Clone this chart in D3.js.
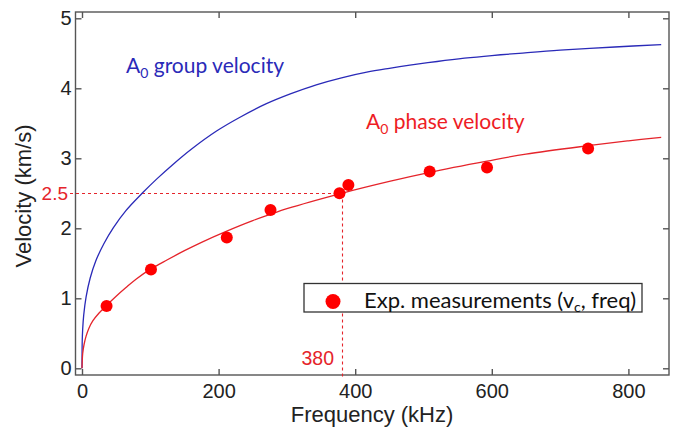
<!DOCTYPE html>
<html><head><meta charset="utf-8">
<script src="https://cdn.jsdelivr.net/npm/d3@7"></script>
<style>
body{margin:0;background:#fff;}
svg{display:block;}
</style></head>
<body>
<svg id="chart" width="700" height="434"></svg>
<script>
// ---- data ----
const groupFreq = [0, 0.3, 1, 2.5, 6, 12, 20, 32, 46, 64, 88, 110, 134, 160, 197, 230, 270, 305, 343, 380, 417, 450, 480, 520, 560, 600, 640, 700, 780, 848];
const groupVel  = [0, 0.38, 0.56, 0.76, 1.02, 1.29, 1.53, 1.78, 2.01, 2.25, 2.50, 2.71, 2.92, 3.13, 3.39, 3.58, 3.78, 3.92, 4.05, 4.15, 4.23, 4.285, 4.33, 4.383, 4.43, 4.468, 4.50, 4.545, 4.59, 4.625];
const phaseFreq = [0, 1, 3, 6, 10, 16, 25, 35, 50, 64, 80, 101, 125, 150, 175, 212, 250, 276, 300, 380, 450, 509, 593, 650, 741, 800, 848];
const phaseVel  = [0, 0.21, 0.34, 0.46, 0.57, 0.68, 0.79, 0.89, 1.03, 1.15, 1.28, 1.42, 1.55, 1.68, 1.80, 1.96, 2.11, 2.20, 2.28, 2.50, 2.67, 2.80, 2.96, 3.06, 3.18, 3.25, 3.30];
const measFreq  = [36, 101, 212, 276, 377, 390, 509, 593, 741];
const measVel   = [0.89, 1.41, 1.87, 2.26, 2.50, 2.62, 2.81, 2.87, 3.14];
const xTicks = [0, 200, 400, 600, 800];
const yTicks = [0, 1, 2, 3, 4, 5];
const markFreq = 380, markVel = 2.5;

const svg = d3.select("#chart");
const x = d3.scaleLinear().domain([0, 800]).range([82, 628.4]);
const y = d3.scaleLinear().domain([0, 5]).range([368.3, 18.3]);
const frame = {l: 75.5, r: 669, t: 12, b: 375};
const axisColor = "#555";
const tickFont = "'Liberation Sans', Arial, sans-serif";
const calFont = "Lato, 'Open Sans', sans-serif";
const red = "#e5242b", dotRed = "#ff0000", blue = "#2a2ab8";

// frame
svg.append("rect").attr("x", frame.l).attr("y", frame.t)
  .attr("width", frame.r - frame.l).attr("height", frame.b - frame.t)
  .attr("fill", "none").attr("stroke", axisColor).attr("stroke-width", 1.4);

// axes with inward ticks
const tl = 6;
const gB = svg.append("g").attr("transform", `translate(0,${frame.b})`)
  .call(d3.axisBottom(x).tickValues(xTicks).tickSizeInner(-tl).tickSizeOuter(0).tickPadding(9).tickFormat(d3.format("d")));
const gT = svg.append("g").attr("transform", `translate(0,${frame.t})`)
  .call(d3.axisTop(x).tickValues(xTicks).tickSizeInner(-tl).tickSizeOuter(0).tickFormat(""));
const gL = svg.append("g").attr("transform", `translate(${frame.l},0)`)
  .call(d3.axisLeft(y).tickValues(yTicks).tickSizeInner(-tl).tickSizeOuter(0).tickPadding(4).tickFormat(d3.format("d")));
const gR = svg.append("g").attr("transform", `translate(${frame.r},0)`)
  .call(d3.axisRight(y).tickValues(yTicks).tickSizeInner(-tl).tickSizeOuter(0).tickFormat(""));
[gB, gT, gL, gR].forEach(g => {
  g.select(".domain").remove();
  g.selectAll(".tick line").attr("stroke", axisColor).attr("stroke-width", 1.4);
  g.selectAll(".tick text").attr("font-family", tickFont).attr("font-size", 20).attr("fill", "#222");
});
gB.selectAll(".tick text").attr("dy", "0.71em");

// axis titles
svg.append("text").attr("x", 372).attr("y", 422).attr("text-anchor", "middle")
  .attr("font-family", tickFont).attr("font-size", 22).attr("fill", "#222").text("Frequency (kHz)");
svg.append("text").attr("transform", "translate(31,196) rotate(-90)").attr("text-anchor", "middle")
  .attr("font-family", tickFont).attr("font-size", 22).attr("fill", "#222").text("Velocity (km/s)");

// dashed guide lines
const gx = Math.round(x(markFreq)) + 0.5, gy = Math.round(y(markVel)) + 0.5;
svg.append("line").attr("x1", 70).attr("x2", gx).attr("y1", gy).attr("y2", gy)
  .attr("stroke", red).attr("stroke-width", 1.1).attr("stroke-dasharray", "3,3");
svg.append("line").attr("x1", gx).attr("x2", gx).attr("y1", gy).attr("y2", frame.b + 4)
  .attr("stroke", red).attr("stroke-width", 1.1).attr("stroke-dasharray", "3,3");
svg.append("text").attr("x", 68).attr("y", y(markVel)).attr("dy", "0.35em").attr("text-anchor", "end")
  .attr("font-family", tickFont).attr("font-size", 19).attr("fill", red).text(d3.format(".1f")(markVel));
svg.append("text").attr("x", 334).attr("y", 365).attr("text-anchor", "end")
  .attr("font-family", tickFont).attr("font-size", 19.5).attr("fill", red).text(markFreq);

// curves
const line = d3.line().x(d => x(d[0])).y(d => y(d[1])).curve(d3.curveCatmullRom.alpha(0.5));
svg.append("path").datum(d3.zip(groupFreq, groupVel)).attr("d", line)
  .attr("fill", "none").attr("stroke", blue).attr("stroke-width", 1.3);
svg.append("path").datum(d3.zip(phaseFreq, phaseVel)).attr("d", line)
  .attr("fill", "none").attr("stroke", red).attr("stroke-width", 1.3);

// measurements
svg.append("g").selectAll("circle").data(d3.zip(measFreq, measVel)).join("circle")
  .attr("cx", d => x(d[0])).attr("cy", d => y(d[1])).attr("r", 6).attr("fill", dotRed);

// curve labels
function subLabel(xp, yp, main, sub, rest, color) {
  const t = svg.append("text").attr("x", xp).attr("y", yp).attr("font-family", calFont)
    .attr("font-size", 21).attr("fill", color);
  t.append("tspan").text(main);
  t.append("tspan").attr("font-size", 14).attr("dy", 5).text(sub);
  t.append("tspan").attr("dy", -5).text(rest);
  return t;
}
subLabel(126, 73, "A", "0", " group velocity", blue);
subLabel(366, 129, "A", "0", " phase velocity", "#ee1c24");

// legend
svg.append("rect").attr("x", 304).attr("y", 283.5).attr("width", 338).attr("height", 28.5)
  .attr("fill", "#fff").attr("stroke", "#333").attr("stroke-width", 1.3);
svg.append("circle").attr("cx", 333).attr("cy", 301.5).attr("r", 7.5).attr("fill", dotRed);
const lt = svg.append("text").attr("x", 364).attr("y", 307.5).attr("font-family", calFont)
  .attr("font-size", 22).attr("fill", "#111");
lt.append("tspan").text("Exp. measurements (v");
lt.append("tspan").attr("font-size", 14).attr("dy", 4).text("c");
lt.append("tspan").attr("dy", -4).text(", freq)");
</script>
</body></html>
